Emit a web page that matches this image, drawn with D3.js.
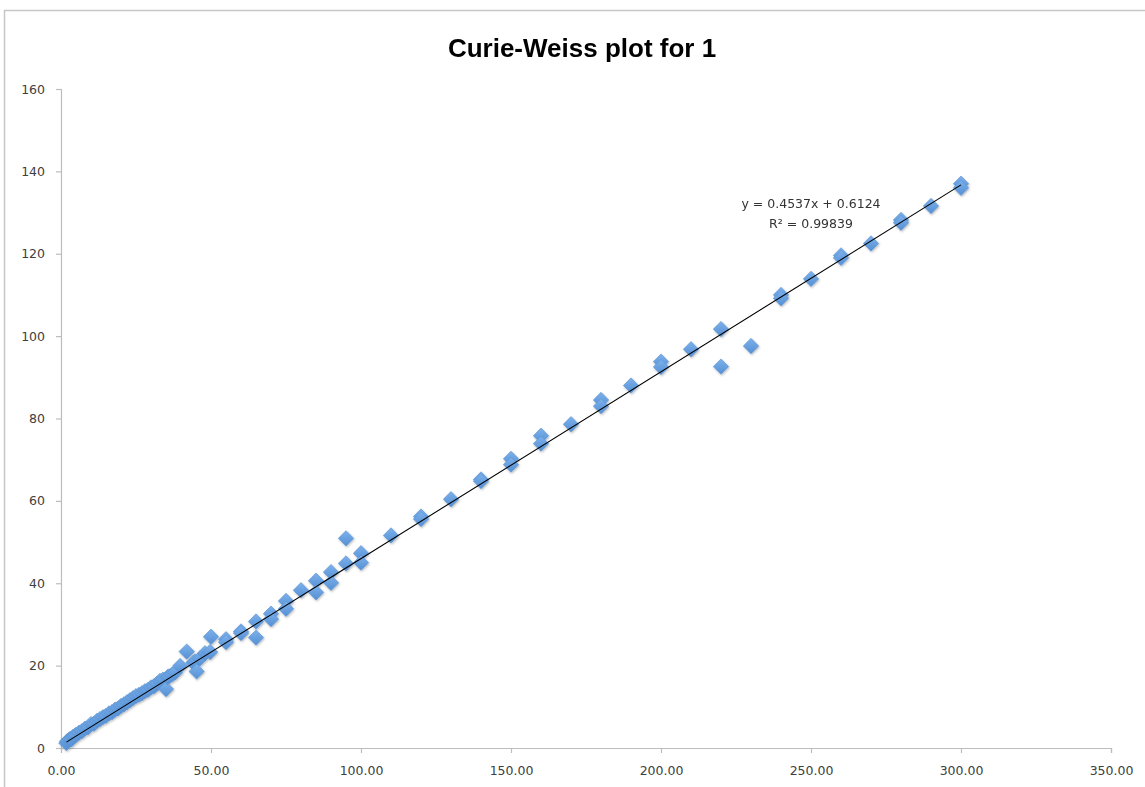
<!DOCTYPE html>
<html>
<head>
<meta charset="utf-8">
<script src="https://cdn.jsdelivr.net/npm/d3@7"></script>
<style>
  html, body { margin: 0; padding: 0; background: #ffffff; }
  svg { display: block; }
</style>
</head>
<body>
<svg id="chart" width="1145" height="787"></svg>
<script>
// Temperature (K) and inverse susceptibility for compound 1
const temperature = [
  1.8, 2, 2.5, 3, 3.5, 4, 4.5, 5, 6, 7, 8, 9, 10, 11, 12, 13, 14, 15, 16, 17,
  18, 19, 20, 21, 22, 23, 24, 25, 26, 27, 28, 29, 30, 31, 32, 33, 34, 35, 35.5, 36,
  37, 38, 39.7, 41.9, 44.1, 44.7, 45.2, 46.3, 48, 49.7, 50,
  55, 55, 60, 60, 65, 65, 70, 70, 75, 75, 80, 85, 85, 90, 90, 95, 95, 100, 100,
  110, 120, 120, 130, 140, 140, 150, 150, 160, 160, 170, 180, 180, 190, 200, 200,
  210, 220, 220, 230, 240, 240, 250, 260, 260, 270, 280, 280, 290, 300, 300
];
const inverseChi = [
  1.2, 1.6, 1.9, 2.2, 2.1, 2.7, 2.9, 3.2, 3.7, 4.1, 4.7, 5.0, 5.8, 5.9, 6.6, 7.0, 7.5, 7.8, 8.4, 8.7,
  9.3, 9.6, 10.2, 10.6, 11.1, 11.6, 12.1, 12.6, 12.9, 13.3, 13.8, 14.1, 14.7, 15.0, 15.6, 16.3, 16.6, 14.3, 17.2, 17.4,
  17.8, 18.3, 19.9, 23.4, 20.7, 21.0, 18.6, 21.7, 23.0, 23.3, 27.0,
  26.4, 25.7, 28.3, 27.9, 30.7, 26.8, 32.6, 31.3, 35.7, 33.8, 38.3, 40.6, 37.8, 42.7, 40.1, 50.9, 44.8, 47.3, 45.0,
  51.6, 56.2, 55.6, 60.4, 65.2, 64.8, 70.2, 68.8, 75.8, 73.9, 78.6, 84.5, 83.0, 88.0, 93.8, 92.5,
  96.8, 101.7, 92.6, 97.6, 110.0, 109.2, 113.9, 119.6, 119.0, 122.5, 128.2, 127.5, 131.6, 137.0, 136.0
];

// Axis ticks
const xTicks = [0, 50, 100, 150, 200, 250, 300, 350];
const yTicks = [0, 20, 40, 60, 80, 100, 120, 140, 160];

// Linear fit
const fitSlope = 0.4537;
const fitIntercept = 0.6124;
const fitLabels = ["y = 0.4537x + 0.6124", "R\u00B2 = 0.99839"];
const chartTitle = "Curie-Weiss plot for 1";

const svg = d3.select("#chart");

// Chart frame
svg.append("rect")
  .attr("x", 4.5).attr("y", 10.5)
  .attr("width", 1160).attr("height", 800)
  .attr("fill", "#ffffff")
  .attr("stroke", "#c6c6c6")
  .attr("stroke-width", 1.5);

const x = d3.scaleLinear().domain([0, 350]).range([61, 1111]);
const y = d3.scaleLinear().domain([0, 160]).range([748, 89]);

const axisColor = "#bdbdbd";
const labelColor = "#404040";
const tickFont = "'DejaVu Sans', Verdana, sans-serif";

// X axis
const gx = svg.append("g")
  .attr("transform", "translate(0,748)")
  .call(d3.axisBottom(x).tickValues(xTicks).tickFormat(d3.format(".2f")).tickSizeOuter(0).tickSize(5).tickPadding(13));
gx.select(".domain").attr("stroke", axisColor).attr("stroke-width", 1.2);
gx.selectAll(".tick line").attr("stroke", axisColor).attr("stroke-width", 1.2);
gx.selectAll(".tick text")
  .attr("fill", labelColor)
  .style("font-family", tickFont)
  .style("font-size", "12.5px");

// Y axis
const gy = svg.append("g")
  .attr("transform", "translate(61,0)")
  .call(d3.axisLeft(y).tickValues(yTicks).tickFormat(d3.format("d")).tickSizeOuter(0).tickSize(5).tickPadding(11));
gy.select(".domain").attr("stroke", axisColor).attr("stroke-width", 1.2);
gy.selectAll(".tick line").attr("stroke", axisColor).attr("stroke-width", 1.2);
gy.selectAll(".tick text")
  .attr("fill", labelColor)
  .style("font-family", tickFont)
  .style("font-size", "12.5px");

// Marker shading
const defs = svg.append("defs");
const grad = defs.append("linearGradient")
  .attr("id", "markerFill")
  .attr("x1", "0").attr("y1", "0").attr("x2", "1").attr("y2", "1");
grad.append("stop").attr("offset", "0%").attr("stop-color", "#7db1ec");
grad.append("stop").attr("offset", "100%").attr("stop-color", "#5590d4");
const shadow = defs.append("filter")
  .attr("id", "markerShadow")
  .attr("x", "-50%").attr("y", "-50%").attr("width", "200%").attr("height", "200%");
shadow.append("feDropShadow")
  .attr("dx", 0.8).attr("dy", 1.2).attr("stdDeviation", 1.1)
  .attr("flood-color", "#000").attr("flood-opacity", 0.28);

const points = temperature.map((t, i) => ({ t, v: inverseChi[i] }));
const diamond = d3.symbol().type(d3.symbolSquare).size(118);

svg.append("g")
  .attr("filter", "url(#markerShadow)")
  .selectAll("path")
  .data(points)
  .join("path")
  .attr("d", diamond)
  .attr("transform", d => `translate(${x(d.t)},${y(d.v)}) rotate(45)`)
  .attr("fill", "url(#markerFill)")
  .attr("stroke", "#5a93d3")
  .attr("stroke-width", 0.6);

// Linear trendline over the measured range
const tMin = d3.min(temperature), tMax = d3.max(temperature);
const fitLine = d3.line().x(d => x(d)).y(d => y(fitSlope * d + fitIntercept));
svg.append("path")
  .datum([tMin, tMax])
  .attr("d", fitLine)
  .attr("fill", "none")
  .attr("stroke", "#000")
  .attr("stroke-width", 1.1);

// Fit equation
svg.append("g")
  .selectAll("text")
  .data(fitLabels)
  .join("text")
  .attr("x", 811)
  .attr("y", (d, i) => 208 + i * 20)
  .attr("text-anchor", "middle")
  .attr("fill", "#333333")
  .style("font-family", tickFont)
  .style("font-size", "12.5px")
  .text(d => d);

// Title
svg.append("text")
  .attr("x", 582)
  .attr("y", 57)
  .attr("text-anchor", "middle")
  .attr("fill", "#000")
  .style("font-family", "'Liberation Sans Narrow', 'Arial Narrow', sans-serif")
  .style("font-weight", "bold")
  .style("font-size", "26px")
  .text(chartTitle);
</script>
</body>
</html>
